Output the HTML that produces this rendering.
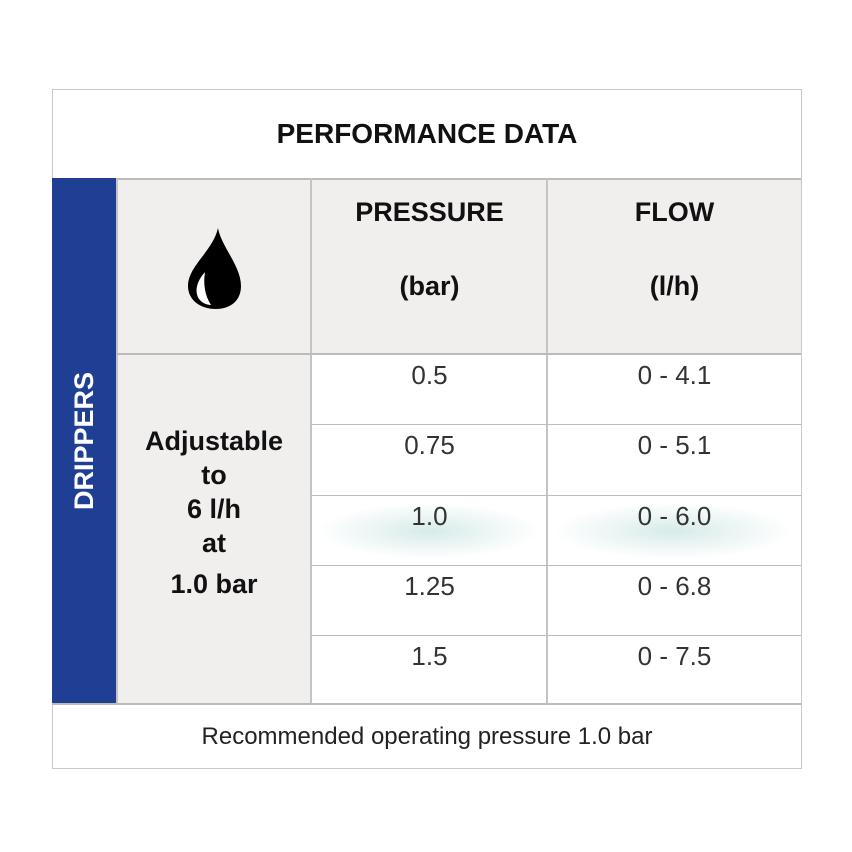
<!DOCTYPE html>
<html><head><meta charset="utf-8"><style>
body{margin:0;width:852px;height:852px;background:#fff;position:relative;font-family:"Liberation Sans Narrow","Liberation Sans",sans-serif;overflow:hidden}
.a{position:absolute;box-sizing:border-box}
.c{display:flex;align-items:center;justify-content:center;text-align:center}
.b{font-weight:bold;color:#111}
.v{font-size:26px;color:#333;justify-content:center;align-items:flex-start;padding-top:6px}
.hl{position:absolute;height:1px;background:#bbb}
.vl{position:absolute;width:2px;background:#c4c4c4}
</style></head><body>
<div class="a" style="left:52px;top:89px;width:750px;height:680px;border:1px solid #c8c8c8"></div>
<div class="a c b" style="left:53px;top:89px;width:748px;height:89px;font-size:28px">PERFORMANCE DATA</div>
<div class="hl" style="left:53px;top:178px;width:748px;height:2px"></div>
<div class="a" style="left:52px;top:178px;width:64px;height:526px;background:#1f3f95"></div>
<div class="a c" style="left:-180px;top:424px;width:528px;height:34px;transform:rotate(-90deg);color:#fff;font-weight:bold;font-size:27px">DRIPPERS</div>
<div class="a" style="left:117px;top:180px;width:194px;height:174px;background:#f1eeee"></div>
<svg class="a" style="left:185px;top:226px" width="58" height="86" viewBox="0 0 58 86"><path d="M33 2 C36 20 56 40 56 60 C56 75 45 83 31 83 C15 83 3 74 3 60 C3 40 28 25 33 2Z" fill="#000"/><path d="M20 46 C12 55 9 65 14 73 C17 77 22 79 26 79 C20 70 18 58 20 46Z" fill="#fff"/></svg>
<div class="a" style="left:312px;top:180px;width:235px;height:174px;background:#f1eeee"></div>
<div class="a" style="left:548px;top:180px;width:253px;height:174px;background:#f1eeee"></div>
<div class="a c b" style="left:312px;top:192px;width:235px;height:40px;font-size:27px">PRESSURE</div>
<div class="a c b" style="left:312px;top:266px;width:235px;height:40px;font-size:27px">(bar)</div>
<div class="a c b" style="left:548px;top:192px;width:253px;height:40px;font-size:27px">FLOW</div>
<div class="a c b" style="left:548px;top:266px;width:253px;height:40px;font-size:27px">(l/h)</div>
<div class="a" style="left:117px;top:354px;width:194px;height:350px;background:#f1eeee"></div>
<div class="a b" style="left:117px;top:424px;width:194px;text-align:center;font-size:27px;line-height:34px">Adjustable<br>to<br>6 l/h<br>at<br><span style="line-height:48px">1.0 bar</span></div>
<div class="a" style="left:312px;top:496px;width:489px;height:69px;background:radial-gradient(ellipse 110px 28px at 117px 35px,#d6ebe9,#fff 100%),#fff"></div>
<div class="a" style="left:548px;top:496px;width:253px;height:69px;background:radial-gradient(ellipse 120px 28px at 126px 35px,#d6ebe9,#fff 100%)"></div>
<div class="vl" style="left:116px;top:178px;height:526px"></div>
<div class="vl" style="left:310px;top:178px;height:526px"></div>
<div class="vl" style="left:546px;top:178px;height:526px"></div>
<div class="hl" style="left:116px;top:353px;width:685px;height:2px"></div>
<div class="hl" style="left:311px;top:424px;width:490px"></div>
<div class="hl" style="left:311px;top:495px;width:490px"></div>
<div class="hl" style="left:311px;top:565px;width:490px"></div>
<div class="hl" style="left:311px;top:635px;width:490px"></div>
<div class="hl" style="left:52px;top:703px;width:749px;height:2px"></div>
<div id="rows"></div>
<div class="a c" style="left:53px;top:705px;width:748px;height:63px;font-family:'Liberation Sans',sans-serif;font-size:24px;color:#222">Recommended operating pressure 1.0 bar</div>
<script>
const pressures=["0.5","0.75","1.0","1.25","1.5"];
const flows=["0 - 4.1","0 - 5.1","0 - 6.0","0 - 6.8","0 - 7.5"];
const rowTops=[354,424,495,565,635];
pressures.forEach((p,i)=>{
 const a=document.createElement('div');a.className='a c v';
 a.style.cssText=`left:312px;top:${rowTops[i]}px;width:235px;height:60px`;a.textContent=p;
 
 
 document.body.appendChild(a);
 const b=document.createElement('div');b.className='a c v';
 b.style.cssText=`left:548px;top:${rowTops[i]}px;width:253px;height:60px`;b.textContent=flows[i];
 
 
 document.body.appendChild(b);
});
</script>
</body></html>
